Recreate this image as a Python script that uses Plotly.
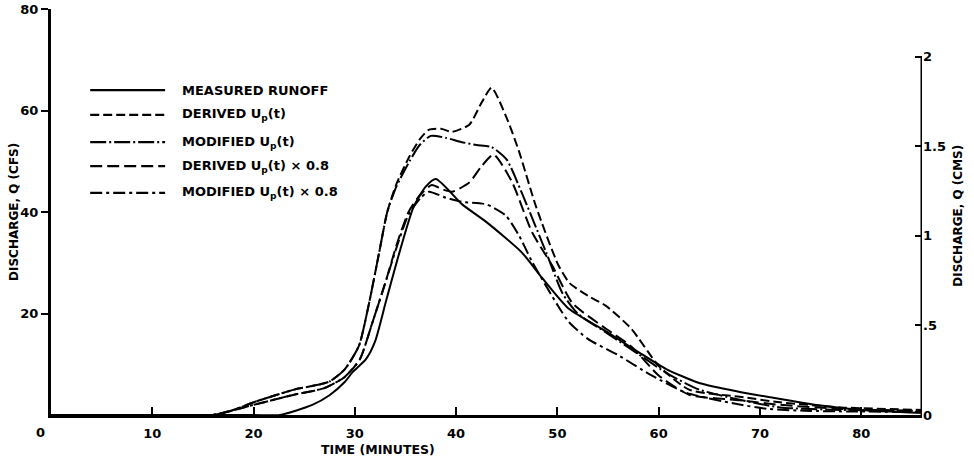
import plotly.graph_objects as go

# ---------------- data ----------------
CFS_PER_CMS = 35.3147

measured_t = [0, 10, 16, 20, 22.6, 25.8, 27.5, 29, 29.8, 31.1, 32, 33.1, 34.4, 35.8, 37, 38,
              40.6, 43, 46.5, 48.5, 51.1, 54.8, 58, 60.7, 64, 67.9, 71, 75.8, 80, 86]
measured_q = [0, 0, 0, 0, 0, 2, 3.9, 6.5, 8.5, 11, 14.5, 22.6, 32, 41, 45, 46.5,
              41.5, 38, 32, 27, 21, 16.5, 12.4, 9.1, 6.3, 4.6, 3.5, 1.9, 1.0, 0.4]

derived_t = [0, 10, 16, 18, 20, 22, 24, 26, 27.5, 29, 30.4, 31.4, 32.4, 33.2, 34.1, 35.4, 36.4, 37.3,
             38.5, 39.6, 41.3, 42.5, 43.5, 45, 46.2, 47.9, 50.1, 51.2, 53, 54.8, 57.3, 60, 63, 68, 72, 78, 86]
derived_q = [0, 0, 0, 1, 2.5, 3.8, 5, 5.8, 6.6, 9, 13.6, 22, 32, 40, 45.5, 51, 54.3, 56.2,
             56.4, 55.8, 57.2, 61.5, 64.5, 58.5, 52, 41, 29.5, 26, 23.5, 21.5, 17, 9.7, 5, 3.6, 2.5, 1.5, 1]

modified_t = [0, 10, 16, 18, 20, 22, 24, 26, 27.5, 29, 30.4, 31.4, 32.4, 33.2, 34.1, 35.4, 36.4, 37.5,
              39, 40.5, 42, 43.5, 45, 46.5, 48.9, 50.5, 52, 55, 58, 61, 64, 68, 72, 78, 86]
modified_q = [0, 0, 0, 1, 2.5, 3.8, 5, 5.8, 6.6, 9, 13.6, 22, 32, 40, 45, 50, 53.2, 55,
              54.6, 53.8, 53.2, 52.8, 50.3, 43.7, 32, 24, 20, 16, 12, 8, 5, 3, 1.5, 1, 0.8]

derived08_t = [0, 10, 16, 20, 24, 27, 29, 30.5, 31.7, 33, 34.2, 35.3, 36.5, 37.6, 38.6, 39.6, 41.3,
               42.5, 43.7, 45.5, 47.5, 49.5, 51.5, 54.8, 57.3, 60, 63, 68, 72, 78, 86]
derived08_q = [0, 0, 0, 2, 4, 5.3, 7.5, 11, 18, 26, 34, 40, 43.5, 45.3, 44.5, 44, 45.8,
               49, 51.3, 46, 36, 29.4, 22, 17, 13.5, 7.8, 4, 2.9, 2, 1.2, 0.8]

modified08_t = [0, 10, 16, 20, 24, 27, 29, 30.5, 31.7, 33, 34.2, 35.3, 36.5, 37.3, 39, 40.6, 43,
                44.9, 46.2, 47.5, 50, 51.1, 53, 56, 59.3, 62.7, 67.6, 70.8, 75, 86]
modified08_q = [0, 0, 0, 2, 4, 5.3, 7.5, 11, 18, 26, 33.5, 39.5, 42.8, 44, 42.8, 42, 41.5,
                39.3, 35.4, 30.2, 21.7, 18.4, 15, 11.8, 7.8, 4.4, 2.2, 1.2, 0.8, 0.6]

series_names = ["MEASURED RUNOFF", "DERIVED U<sub>p</sub>(t)", "MODIFIED U<sub>p</sub>(t)",
                "DERIVED U<sub>p</sub>(t) \u00d7 0.8", "MODIFIED U<sub>p</sub>(t) \u00d7 0.8"]
series_t = [measured_t, derived_t, modified_t, derived08_t, modified08_t]
series_q = [measured_q, derived_q, modified_q, derived08_q, modified08_q]
series_dash = ["solid", "9px,4px", "16px,3px,2px,3px", "12px,5px", "12px,4px,3px,4px"]

x_ticks = [10, 20, 30, 40, 50, 60, 70, 80]
y_ticks = [20, 40, 60, 80]
cms_ticks = [0, 0.5, 1, 1.5, 2]
cms_ticktext = ["0", ".5", "1", "1.5", "2"]

# ---------------- figure ----------------
FONT = "DejaVu Sans"
fig = go.Figure()

for name, t, q, d in zip(series_names, series_t, series_q, series_dash):
    fig.add_trace(go.Scatter(x=t, y=q, mode="lines", name=name, showlegend=False,
                             line=dict(color="black", width=2, dash=d, shape="spline", smoothing=0.6),
                             hoverinfo="skip"))

# invisible trace to carry the metric axis
fig.add_trace(go.Scatter(x=measured_t, y=[v / CFS_PER_CMS for v in measured_q], yaxis="y2",
                         mode="lines", line=dict(color="rgba(0,0,0,0)", width=0),
                         showlegend=False, hoverinfo="skip"))

# right-hand (metric) axis line, running from 0 up to 2 CMS only
fig.add_shape(type="line", xref="x", yref="y2", x0=86, x1=86, y0=0, y1=cms_ticks[-1],
              line=dict(color="black", width=3))

# manual legend (long sample lines like the original)
row_y = [0.800, 0.739, 0.672, 0.613, 0.547]
for name, d, ry in zip(series_names, series_dash, row_y):
    fig.add_shape(type="line", xref="paper", yref="paper", x0=0.045, x1=0.131, y0=ry, y1=ry,
                  line=dict(color="black", width=2.2, dash=d))
    fig.add_annotation(xref="paper", yref="paper", x=0.148, y=ry, text=name, showarrow=False,
                       xanchor="left", yanchor="middle",
                       font=dict(family=FONT, size=13, color="black", weight="bold"))

# axis titles and origin label
fig.add_annotation(xref="paper", yref="paper", x=0.375, y=-0.084, text="TIME (MINUTES)",
                   showarrow=False, xanchor="center", yanchor="middle",
                   font=dict(family=FONT, size=12.5, color="black", weight="bold"))
fig.add_annotation(xref="paper", yref="paper", x=-0.0425, y=0.5, text="DISCHARGE, Q (CFS)",
                   showarrow=False, textangle=-90, xanchor="center", yanchor="middle",
                   font=dict(family=FONT, size=12, color="black", weight="bold"))
fig.add_annotation(xref="paper", yref="paper", x=1.041, y=0.49, text="DISCHARGE, Q (CMS)",
                   showarrow=False, textangle=-90, xanchor="center", yanchor="middle",
                   font=dict(family=FONT, size=12, color="black", weight="bold"))
fig.add_annotation(xref="paper", yref="paper", x=-0.0126, y=-0.042, text="0",
                   showarrow=False, xanchor="center", yanchor="middle",
                   font=dict(family=FONT, size=13, color="black", weight="bold"))

tickfont = dict(family=FONT, size=13, color="black", weight="bold")
fig.update_layout(
    width=974, height=461,
    margin=dict(l=51, r=52, t=9, b=46, autoexpand=False),
    paper_bgcolor="white", plot_bgcolor="white",
    showlegend=False,
    xaxis=dict(range=[0, 86], tickvals=x_ticks, ticks="inside", ticklen=8, tickwidth=2,
               tickcolor="black", showline=True, linecolor="black", linewidth=3,
               showgrid=False, zeroline=False, tickfont=tickfont, ticklabelstandoff=4,
               automargin=False),
    yaxis=dict(range=[0, 80], tickvals=y_ticks, ticks="outside", ticklen=7, tickwidth=2,
               tickcolor="black", showline=True, linecolor="black", linewidth=3,
               showgrid=False, zeroline=False, tickfont=tickfont, automargin=False),
    yaxis2=dict(range=[0, 80 / CFS_PER_CMS], overlaying="y", side="right",
                tickvals=cms_ticks, ticktext=cms_ticktext, ticks="inside", ticklen=7, tickwidth=2,
                tickcolor="black", showline=False, showgrid=False, zeroline=False,
                tickfont=tickfont, automargin=False),
)

fig.write_html("out.html")
